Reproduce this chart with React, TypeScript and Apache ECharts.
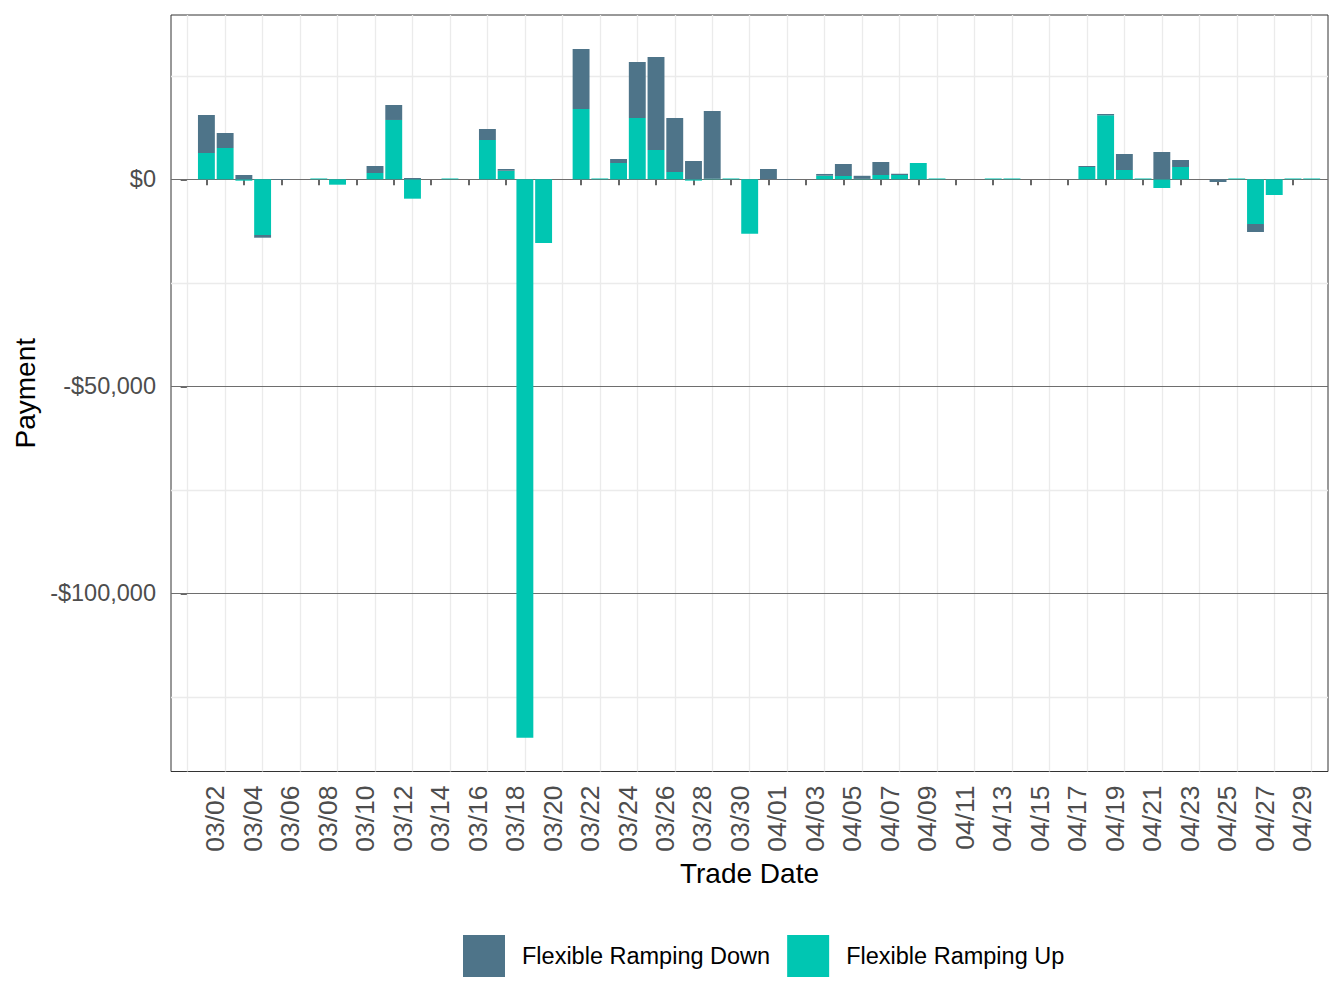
import React, { useEffect, useRef } from "react";
import * as echarts from "echarts";

// Trade dates (position d = index + 1, 03/01 would be d = 0)
const dates = [
  "03/02","03/03","03/04","03/05","03/06","03/07","03/08","03/09","03/10","03/11",
  "03/12","03/13","03/14","03/15","03/16","03/17","03/18","03/19","03/20","03/21",
  "03/22","03/23","03/24","03/25","03/26","03/27","03/28","03/29","03/30","03/31",
  "04/01","04/02","04/03","04/04","04/05","04/06","04/07","04/08","04/09","04/10",
  "04/11","04/12","04/13","04/14","04/15","04/16","04/17","04/18","04/19","04/20",
  "04/21","04/22","04/23","04/24","04/25","04/26","04/27","04/28","04/29","04/30",
];

const upValues = [
  6350, 7560, -330, -13450, 0, 0, 200, -1300, 0, 1520,
  14330, -4680, 0, 200, 0, 9490, 2080, -134860, -15380, 0,
  16970, 200, 3940, 14810, 7080, 1770, -320, 160, 200, -13150,
  0, 0, 0, 870, 800, 100, 1040, 1040, 3940, 200,
  0, 0, 200, 200, 0, 0, 0, 2970, 15460, 2250,
  200, -2100, 2970, 0, 0, 200, -10800, -3790, 200, 200,
];

const downValues = [
  9180, 3620, 1040, -650, -150, 0, 0, 0, 0, 1690,
  3610, 320, 0, 0, 0, 2660, 410, 0, 0, 0,
  14500, 0, 960, 13520, 22450, 13040, 4420, 16340, 0, 0,
  2490, -150, 0, 420, 2900, 750, 3140, 300, 0, 0,
  0, 0, 0, 0, 0, 0, 0, 240, 310, 3860,
  0, 6590, 1690, 0, -650, 0, -1930, 0, 0, 0,
];

const xTickLabels = [
  "03/02","03/04","03/06","03/08","03/10","03/12","03/14","03/16","03/18","03/20",
  "03/22","03/24","03/26","03/28","03/30","04/01","04/03","04/05","04/07","04/09",
  "04/11","04/13","04/15","04/17","04/19","04/21","04/23","04/25","04/27","04/29",
];

const yBreaks = [0, -50000, -100000];
const yMinorBreaks = [25000, -25000, -75000, -125000];

const X_MIN = -0.89;
const X_MAX = 60.87;
const Y_MIN = -143015;
const Y_MAX = 39680;

const COLOR_DOWN = "#4E7489";
const COLOR_UP = "#00C6B2";
const FONT = "'Liberation Sans', Arial, Helvetica, sans-serif";

function fmtMoney(v: number): string {
  const a = Math.abs(Math.round(v));
  const s = a.toString().replace(/\B(?=(\d{3})+(?!\d))/g, ",");
  return (v < 0 ? "-$" : "$") + s;
}

export default function App() {
  const ref = useRef<HTMLDivElement>(null);

  useEffect(() => {
    if (!ref.current) return;
    const chart = echarts.init(ref.current, null, { renderer: "svg" });

    const tickPos = xTickLabels.map((l) => dates.indexOf(l) + 1);
    const labelOf = (v: number) => dates[Math.round(v) - 1] ?? "";
    const vGrid = [tickPos[0] - 1, ...tickPos.map((p) => p + 1)];

    // value first so that stacking happens on the y (value) dimension
    const upData = upValues.map((v, i) => [v, i + 1]);
    const downData = downValues.map((v, i) => [v, i + 1]);

    const lightLine = { color: "#EBEBEB", width: 1.3, type: "solid" as const };
    const darkLine = { color: "#6E6E6E", width: 1, type: "solid" as const };

    const gridLines = [
      ...yMinorBreaks.map((y) => ({ yAxis: y, lineStyle: lightLine })),
      ...vGrid.map((x) => ({ xAxis: x, lineStyle: lightLine })),
      ...yBreaks.map((y) => ({ yAxis: y, lineStyle: darkLine })),
    ];

    chart.setOption({
      animation: false,
      backgroundColor: "#ffffff",
      textStyle: { fontFamily: FONT },
      grid: {
        left: 171,
        top: 15,
        right: 16,
        bottom: 236.5,
        show: true,
        borderColor: "#333333",
        borderWidth: 1,
        backgroundColor: "transparent",
        containLabel: false,
      },
      legend: {
        data: ["Flexible Ramping Down", "Flexible Ramping Up"],
        left: 458,
        top: 930,
        orient: "horizontal",
        icon: "rect",
        itemWidth: 42,
        itemHeight: 42,
        itemGap: 17,
        textStyle: {
          fontSize: 23.5,
          color: "#000000",
          fontFamily: FONT,
          padding: [0, 0, 0, 12],
        },
      },
      xAxis: {
        type: "value",
        min: X_MIN,
        max: X_MAX,
        splitLine: { show: false },
        axisLine: { show: false },
        axisTick: {
          show: true,
          customValues: tickPos,
          length: 6,
          lineStyle: { color: "#333333", width: 1.5 },
        },
        axisLabel: {
          customValues: tickPos,
          formatter: labelOf,
          rotate: 90,
          verticalAlign: "top",
          lineHeight: 18,
          margin: 14,
          fontSize: 26.5,
          color: "#4D4D4D",
          fontFamily: FONT,
        },
        name: "Trade Date",
        nameLocation: "middle",
        nameGap: 80,
        nameTextStyle: { fontSize: 28, color: "#000000", fontFamily: FONT },
      },
      yAxis: {
        type: "value",
        min: Y_MIN,
        max: Y_MAX,
        splitLine: { show: false },
        axisLine: { show: false },
        axisTick: {
          show: true,
          customValues: yBreaks,
          length: 7,
          lineStyle: { color: "#333333", width: 1.5 },
        },
        axisLabel: {
          customValues: yBreaks,
          formatter: (v: number) => fmtMoney(v),
          margin: 15,
          fontSize: 23.5,
          color: "#4D4D4D",
          fontFamily: FONT,
        },
        name: "Payment",
        nameLocation: "middle",
        nameGap: 128,
        nameTextStyle: { fontSize: 28, color: "#000000", fontFamily: FONT },
      },
      series: [
        {
          type: "line",
          data: [],
          silent: true,
          z: 1,
          markLine: {
            silent: true,
            z: 1,
            symbol: ["none", "none"],
            label: { show: false },
            animation: false,
            data: gridLines,
          },
        },
        {
          name: "Flexible Ramping Up",
          type: "bar",
          stack: "payment",
          data: upData,
          encode: { x: 1, y: 0 },
          barWidth: 16.9,
          itemStyle: { color: COLOR_UP },
          z: 2,
        },
        {
          name: "Flexible Ramping Down",
          type: "bar",
          stack: "payment",
          data: downData,
          encode: { x: 1, y: 0 },
          barWidth: 16.9,
          itemStyle: { color: COLOR_DOWN },
          z: 2,
        },
      ],
    });

    return () => chart.dispose();
  }, []);

  return (
    <div
      ref={ref}
      style={{ position: "absolute", left: 0, top: 0, width: 1344, height: 1008 }}
    />
  );
}
